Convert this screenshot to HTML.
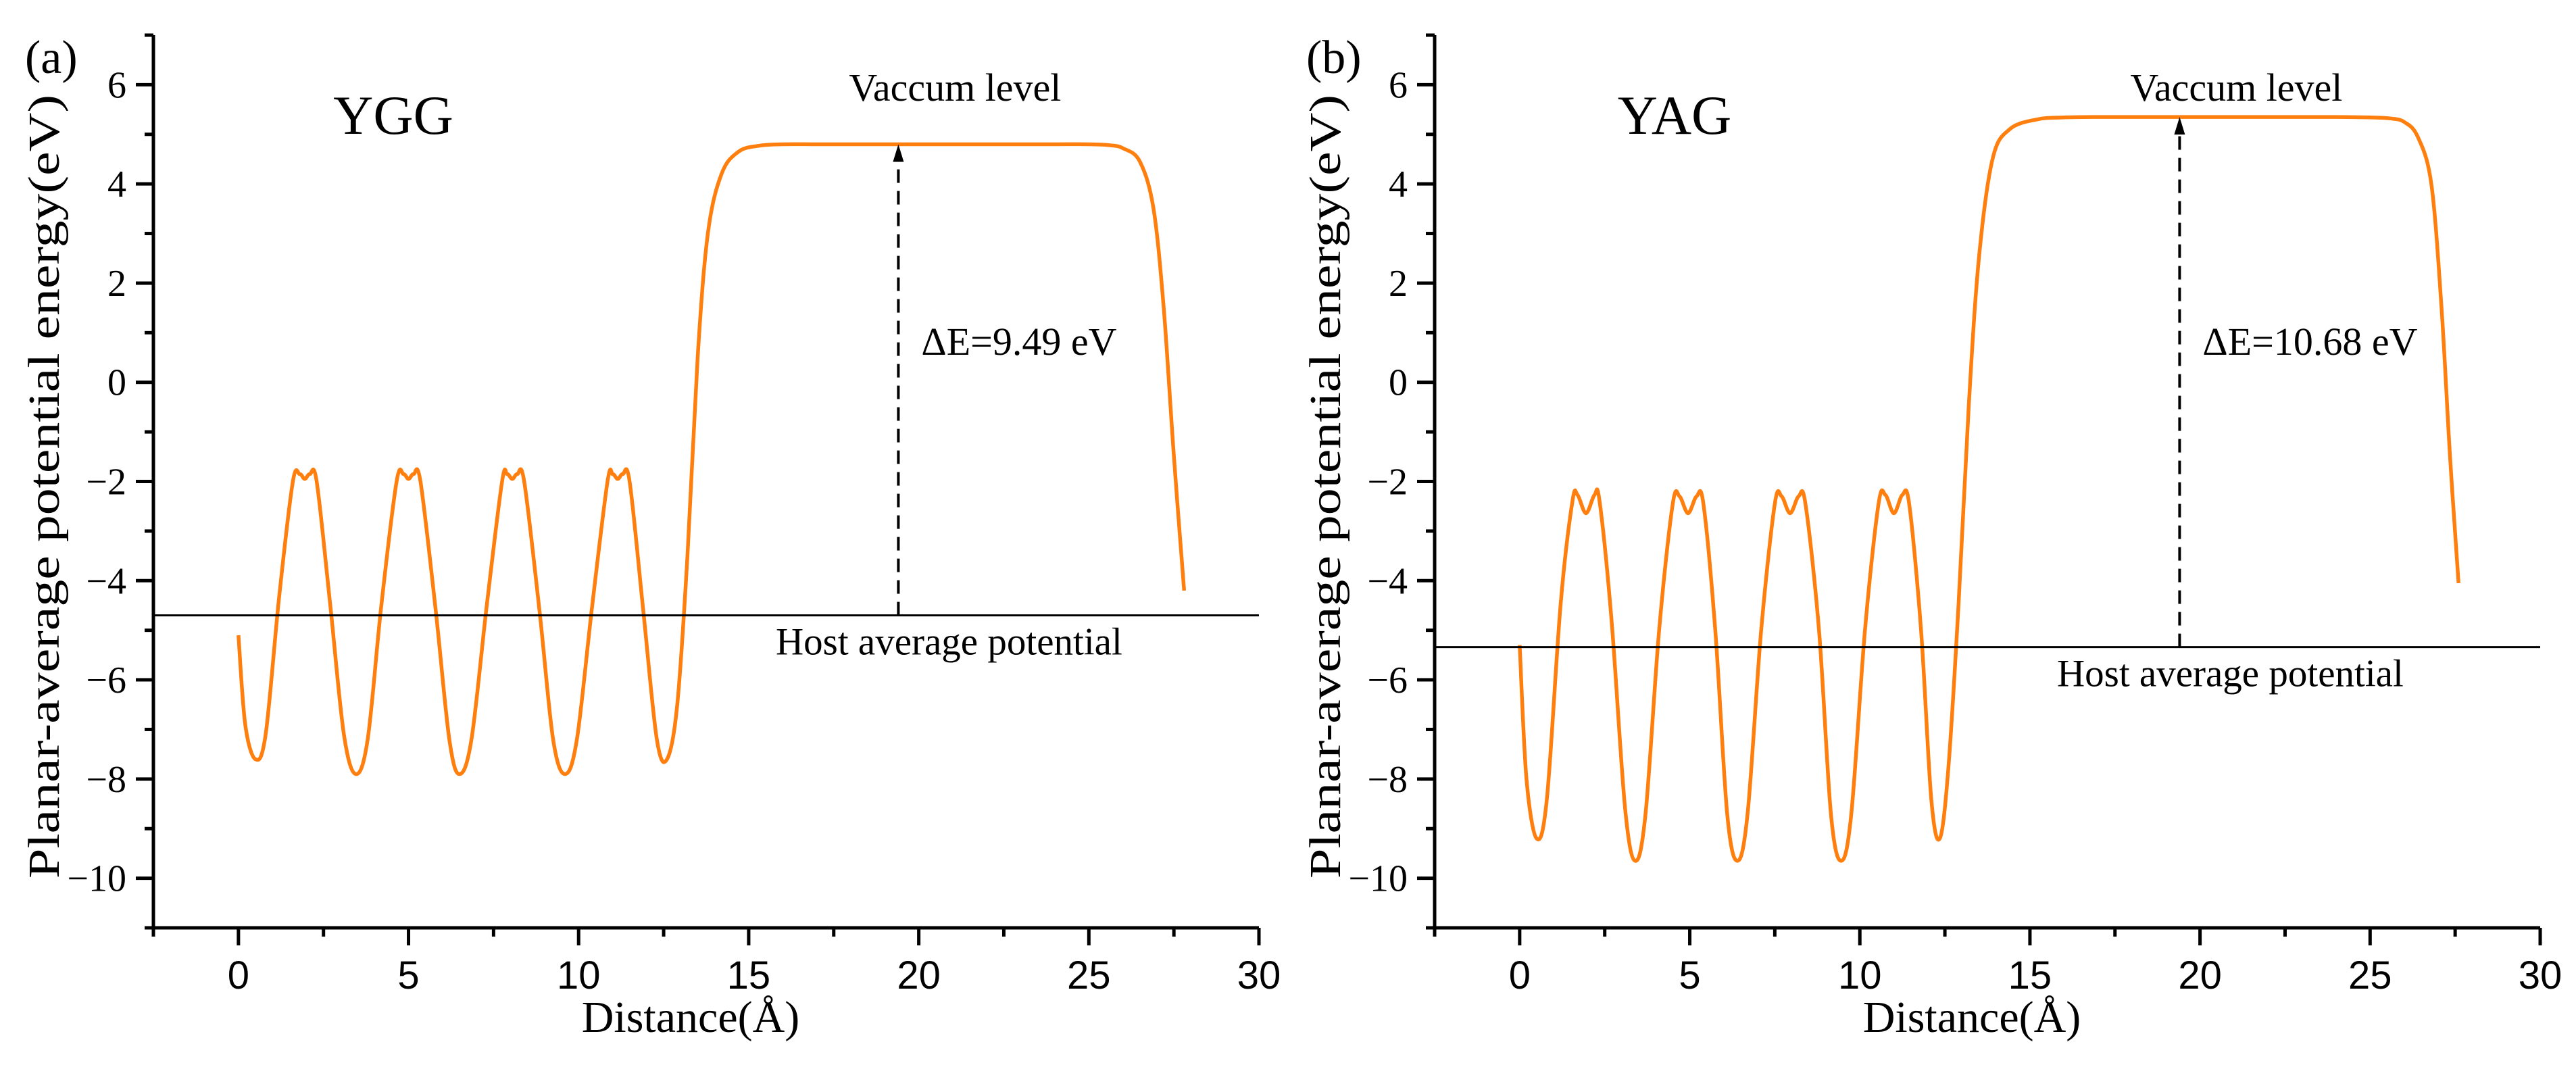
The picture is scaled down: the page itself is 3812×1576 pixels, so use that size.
<!DOCTYPE html>
<html><head><meta charset="utf-8"><style>
html,body{margin:0;padding:0;background:#fff;}
svg{display:block;}
.serif{font-family:"Liberation Serif",serif;}
.sans{font-family:"Liberation Sans",sans-serif;}
</style></head><body>
<svg id="fig" width="3812" height="1576" viewBox="0 0 3812 1576" xmlns="http://www.w3.org/2000/svg">
<rect width="3812" height="1576" fill="#fff"/>
</svg>
<script>
// ---- data ----
const xTicks = [0, 5, 10, 15, 20, 25, 30];
const yTicks = [-10, -8, -6, -4, -2, 0, 2, 4, 6];
const yggX = [0,0.2,0.5,0.8,1.2,1.6,1.8,1.95,2.1,2.3,2.7,3.1,3.45,3.8,4.2,4.65,4.85,5.0,5.15,5.35,5.8,6.2,6.5,6.85,7.3,7.75,7.9,8.05,8.2,8.4,8.85,9.25,9.6,9.95,10.4,10.85,11.0,11.15,11.3,11.5,11.9,12.3,12.6,12.9,13.2,13.5,13.8,14.2,14.7,15.3,16,17,18,19,20,21,22,23,24,25,25.6,26,26.5,26.9,27.2,27.5,27.8];
const yggY = [-5.1,-6.9,-7.6,-7.1,-4.3,-2.0,-1.85,-1.95,-1.85,-2.0,-4.5,-7.1,-7.9,-7.2,-4.5,-2.0,-1.85,-1.95,-1.85,-2.0,-4.6,-7.2,-7.9,-7.2,-4.5,-2.0,-1.85,-1.95,-1.85,-2.0,-4.6,-7.2,-7.9,-7.2,-4.5,-2.0,-1.85,-1.95,-1.85,-2.0,-4.6,-7.2,-7.6,-6.5,-3.5,0.5,3.0,4.2,4.65,4.77,4.8,4.8,4.8,4.8,4.8,4.8,4.8,4.8,4.8,4.8,4.78,4.72,4.45,3.5,1.5,-1.5,-4.2];
const yagX = [0,0.2,0.5,0.8,1.2,1.55,1.7,1.95,2.2,2.35,2.7,3.1,3.4,3.7,4.1,4.5,4.7,4.95,5.2,5.4,5.75,6.1,6.4,6.7,7.1,7.5,7.7,7.95,8.2,8.4,8.8,9.15,9.45,9.75,10.15,10.55,10.75,11.0,11.25,11.45,11.8,12.1,12.35,12.6,12.9,13.2,13.5,13.9,14.4,15.2,16,17,18,19,20,21,22,23,24,25,25.6,26,26.4,26.8,27.1,27.35,27.6];
const yagY = [-5.3,-8.0,-9.2,-8.4,-4.5,-2.4,-2.27,-2.64,-2.27,-2.4,-4.8,-8.6,-9.65,-8.7,-5.0,-2.45,-2.3,-2.64,-2.3,-2.45,-5.0,-8.7,-9.65,-8.7,-5.0,-2.45,-2.3,-2.64,-2.3,-2.45,-5.0,-8.7,-9.65,-8.7,-5.0,-2.45,-2.27,-2.64,-2.27,-2.45,-5.0,-8.4,-9.2,-7.8,-4.5,-0.5,2.5,4.5,5.1,5.3,5.34,5.35,5.35,5.35,5.35,5.35,5.35,5.35,5.35,5.34,5.32,5.25,4.95,4.0,1.5,-1.5,-4.05];
const hostLevels = [-4.7, -5.34];
const vacLevels = [4.8, 5.35];
const arrowX = [19.4, 19.4];
const panelLabels = ["(a)", "(b)"];
const materials = ["YGG", "YAG"];
const deltaLabels = ["ΔE=9.49 eV", "ΔE=10.68 eV"];

const NS = "http://www.w3.org/2000/svg";
const svg = document.getElementById('fig');
function mk(tag, attrs, parent){const e=document.createElementNS(NS,tag);for(const k in attrs)e.setAttribute(k,attrs[k]);(parent||svg).appendChild(e);return e;}

function catmull(pts){
  let d = `M${pts[0][0]},${pts[0][1]}`;
  for(let i=0;i<pts.length-1;i++){
    const p0=pts[Math.max(0,i-1)],p1=pts[i],p2=pts[i+1],p3=pts[Math.min(pts.length-1,i+2)];
    const c1=[p1[0]+(p2[0]-p0[0])/6,p1[1]+(p2[1]-p0[1])/6];
    const c2=[p2[0]-(p3[0]-p1[0])/6,p2[1]-(p3[1]-p1[1])/6];
    d+=` C${c1[0].toFixed(1)},${c1[1].toFixed(1)} ${c2[0].toFixed(1)},${c2[1].toFixed(1)} ${p2[0].toFixed(1)},${p2[1].toFixed(1)}`;
  }
  return d;
}

function panel(i, ox, xs, ys){
  const L=ox, R=ox+1636, T=52, B=1373;
  const xMin=-2.5, xMax=30, yMin=-11, yMax=7;
  const X=v=>L+(v-xMin)/(xMax-xMin)*(R-L);
  const Y=v=>B-(v-yMin)/(yMax-yMin)*(B-T);
  const g=mk('g',{});
  
  

  const pts=xs.map((x,k)=>[X(x),Y(ys[k])]);
  const c=mk('path',{d:catmull(pts),fill:'none',stroke:'#ff7f0e','stroke-width':5.5,'stroke-linejoin':'round'},g);
  
  

  const h=mk('line',{x1:L,x2:R,y1:Y(hostLevels[i]),y2:Y(hostLevels[i]),stroke:'#000','stroke-width':3},g);
  
  

  const ax=X(arrowX[i]);
  const a=mk('line',{x1:ax,x2:ax,y1:Y(hostLevels[i]),y2:Y(vacLevels[i])+22,stroke:'#000','stroke-width':4,'stroke-dasharray':'20,12'},g);
  
  
  const ah=mk('polygon',{points:`${ax-8},${Y(vacLevels[i])+26} ${ax+8},${Y(vacLevels[i])+26} ${ax},${Y(vacLevels[i])}`,fill:'#000'},g);
  
  

  const ax1=mk('path',{d:`M${L},${T} V${B} H${R}`,fill:'none',stroke:'#000','stroke-width':5},g);
  
  
  for(let v=-2.5; v<=30.01; v+=2.5){
    const major = Math.abs(v%5)<0.01;
    const t=mk('line',{x1:X(v),x2:X(v),y1:B,y2:B+(major?26:13),stroke:'#000','stroke-width':5},g);
    
    
  }
  xTicks.forEach(v=>{
    const t=mk('text',{x:X(v),y:B+90,'text-anchor':'middle','font-size':58,class:'sans'},g);
    t.textContent=v;
    
    
  });
  for(let v=-11; v<=7; v+=1){
    const major = v%2===0;
    const t=mk('line',{x1:L-(major?26:13),x2:L,y1:Y(v),y2:Y(v),stroke:'#000','stroke-width':5},g);
    
    
  }
  yTicks.forEach(v=>{
    const t=mk('text',{x:L-40,y:Y(v)+19,'text-anchor':'end','font-size':56,class:'serif'},g);
    t.textContent=v<0?'\u2212'+(-v):String(v);
    
    
  });

  const xt=mk('text',{x:L+795,y:1527,'text-anchor':'middle','font-size':66,class:'serif'},g);
  xt.textContent='Distance(Å)';
  
  
  const cx=L-140, cy=720;
  const yt=mk('text',{x:cx,y:cy,'text-anchor':'middle','font-size':66,class:'serif',transform:`rotate(-90 ${cx} ${cy})`,textLength:1160,lengthAdjust:'spacingAndGlyphs'},g);
  yt.textContent='Planar-average potential energy(eV)';
  
  

  const pl=mk('text',{x:L-190,y:108,'font-size':70,class:'serif'},g);
  pl.textContent=panelLabels[i];
  
  
  const mt=mk('text',{x:L+355,y:198,'text-anchor':'middle','font-size':82,class:'serif'},g);
  mt.textContent=materials[i];
  
  
  const vl=mk('text',{x:ax+84,y:149,'text-anchor':'middle','font-size':58,class:'serif'},g);
  vl.textContent='Vaccum level';
  
  
  const de=mk('text',{x:ax+34,y:525,'font-size':58,class:'serif'},g);
  de.textContent=deltaLabels[i];
  
  
  const hl=mk('text',{x:ax+75,y:Y(hostLevels[i])+58,'text-anchor':'middle','font-size':57,class:'serif'},g);
  hl.textContent='Host average potential';
  
  
}
panel(0, 227, yggX, yggY);
panel(1, 2123, yagX, yagY);
</script>
</body></html>
